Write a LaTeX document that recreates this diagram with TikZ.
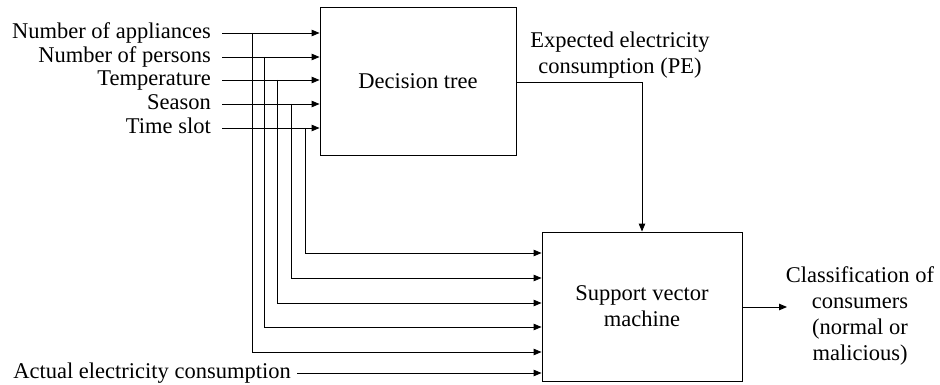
\documentclass[tikz,border=0pt]{standalone}
\usepackage{fontspec}
\setmainfont{LiberationSerif}[Extension=.ttf,UprightFont=*-Regular]
\usetikzlibrary{arrows.meta}
\begin{document}
\begin{tikzpicture}[x=1pt,y=-1pt,
  txt/.style={font=\fontsize{22.5}{26}\selectfont,inner sep=0pt},
  box/.style={draw,line width=0.9pt,inner sep=0pt,txt,align=center},
  wire/.style={line width=0.9pt},
  arr/.style={wire,-{Triangle[length=8pt,width=6.5pt]}}]
\useasboundingbox (0,0) rectangle (940,385);

% processing blocks
\node[box,minimum width=196pt,minimum height=148pt] (dt) at (418,81) {Decision tree};
\node[box,minimum width=200pt,minimum height=149pt] (svm) at (642,306.5) {Support vector\\machine};

% input labels and the start of their lines
\foreach \name/\y/\t in {app/33/Number of appliances,per/57/Number of persons,
                         tmp/80/Temperature,sea/104/Season,ts/128/Time slot}{
  \node[txt,anchor=base east] (l\name) at (211,\y+6) {\t};
  \coordinate (s\name) at (222,\y);
  \draw[arr] (s\name) -- (s\name -| dt.west);
}

% branch points feeding the support vector machine
\foreach \name/\x/\y in {app/252/352,per/264/327,tmp/277/303,sea/291/278,ts/305/253}{
  \coordinate (b\name) at (\x,0 |- s\name);
  \draw[arr] (b\name) |- (svm.west |- 0,\y);
}

% measured consumption
\node[txt,anchor=base east] (lact) at (291,378) {Actual electricity consumption};
\coordinate (sact) at (297,373);
\draw[arr] (sact) -- (sact -| svm.west);

% expected consumption from the decision tree
\node[txt,align=center] (lpe) at (620,55) {Expected electricity\\consumption (PE)};
\draw[arr] (dt.east |- 0,82) -| (svm.north);

% classification output
\node[txt,align=center] (lout) at (860,316) {Classification of\\consumers\\(normal or\\malicious)};
\draw[arr] (svm.east |- 0,307) -- (787,307);
\end{tikzpicture}
\end{document}
